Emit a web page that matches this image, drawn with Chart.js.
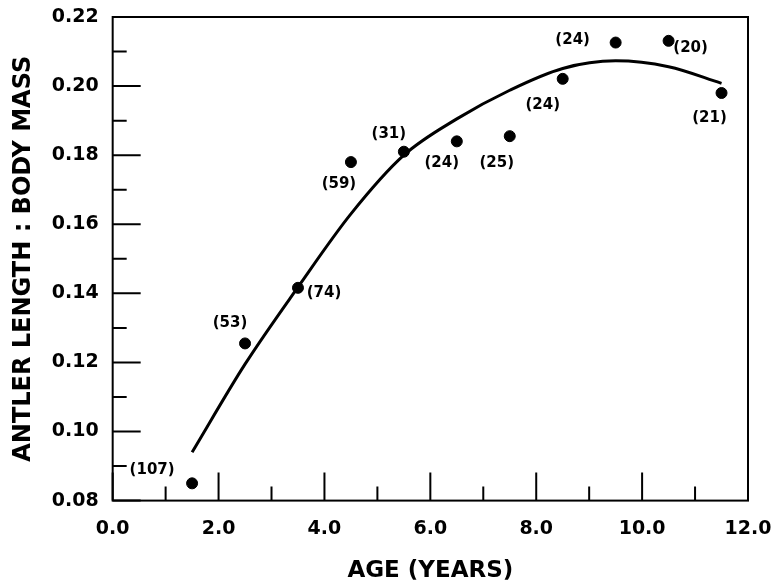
<!DOCTYPE html>
<html lang="en">

<head>
    <meta charset="UTF-8">
    <title>Antler length : body mass by age</title>
    <script src="https://cdn.jsdelivr.net/npm/chart.js"></script>
    <style>
        body {
            margin: 0;
            background-color: #ffffff;
        }
    </style>
</head>

<body>
    <canvas id="antlerChart" width="775" height="585"></canvas>

    <script>
        // observed means by age class, with sample sizes
        const ages = [1.5, 2.5, 3.5, 4.5, 5.5, 6.5, 7.5, 8.5, 9.5, 10.5, 11.5];
        const ratios = [0.085, 0.1255, 0.1416, 0.178, 0.181, 0.184, 0.1855, 0.2021, 0.2126, 0.2131, 0.198];
        const sampleSizes = [107, 53, 74, 59, 31, 24, 25, 24, 24, 20, 21];

        // fitted curve
        const fitAges = [1.5, 2.5, 3.5, 4.5, 5.5, 6.5, 7.5, 8.5, 9.5, 10.5, 11.5];
        const fitRatios = [0.094, 0.1195, 0.1418, 0.163, 0.180, 0.1905, 0.1988, 0.2051, 0.2073, 0.2056, 0.2008];

        // axis ticks
        const xTicks = [0, 2, 4, 6, 8, 10, 12];
        const xMinorTicks = [1, 3, 5, 7, 9, 11];
        const yTicks = [0.08, 0.10, 0.12, 0.14, 0.16, 0.18, 0.20, 0.22];
        const yMinorTicks = [0.09, 0.11, 0.13, 0.15, 0.17, 0.19, 0.21];

        // where each (n) label sits relative to its dot, in px
        const labelOffsets = [
            [-40, -13], [-15, -20], [26, 5], [-12, 22], [-15, -18], [-15, 22],
            [-13, 27], [-20, 26], [-43, -2], [22, 7], [-12, 25]
        ];

        const FONT = "'DejaVu Sans', sans-serif";

        // frame + inward tick marks
        const framePlugin = {
            id: "frame",
            afterDatasetsDraw(chart) {
                const ctx = chart.ctx;
                const a = chart.chartArea;
                const x = chart.scales.x;
                const y = chart.scales.y;
                ctx.save();
                ctx.strokeStyle = "#000";
                ctx.lineWidth = 2;
                ctx.strokeRect(a.left, a.top, a.right - a.left, a.bottom - a.top);

                ctx.beginPath();
                xTicks.forEach(v => {
                    const px = x.getPixelForValue(v);
                    ctx.moveTo(px, a.bottom);
                    ctx.lineTo(px, a.bottom - 28);
                });
                xMinorTicks.forEach(v => {
                    const px = x.getPixelForValue(v);
                    ctx.moveTo(px, a.bottom);
                    ctx.lineTo(px, a.bottom - 14);
                });
                yTicks.forEach(v => {
                    const py = y.getPixelForValue(v);
                    ctx.moveTo(a.left, py);
                    ctx.lineTo(a.left + 28, py);
                });
                yMinorTicks.forEach(v => {
                    const py = y.getPixelForValue(v);
                    ctx.moveTo(a.left, py);
                    ctx.lineTo(a.left + 14, py);
                });
                ctx.stroke();
                ctx.restore();
            }
        };

        // sample-size labels next to the dots
        const sampleLabelPlugin = {
            id: "sampleLabels",
            afterDatasetsDraw(chart) {
                const ctx = chart.ctx;
                const x = chart.scales.x;
                const y = chart.scales.y;
                ctx.save();
                ctx.fillStyle = "#000";
                ctx.font = "bold 15px " + FONT;
                ctx.textAlign = "center";
                ctx.textBaseline = "middle";
                sampleSizes.forEach((n, i) => {
                    const px = x.getPixelForValue(ages[i]) + labelOffsets[i][0];
                    const py = y.getPixelForValue(ratios[i]) + labelOffsets[i][1];
                    ctx.fillText("(" + n + ")", px, py);
                });
                ctx.restore();
            }
        };

        // labels may hang over the plot edges, no extra room needed
        function noOverhang(s) {
            s.paddingLeft = 0;
            s.paddingRight = 0;
            s.paddingTop = 0;
            s.paddingBottom = 0;
        }

        new Chart(document.getElementById("antlerChart"), {
            type: "scatter",
            data: {
                datasets: [{
                    label: "observed",
                    data: ages.map((a, i) => ({ x: a, y: ratios[i] })),
                    backgroundColor: "#000",
                    borderColor: "#000",
                    pointRadius: 5.5,
                    order: 0
                }, {
                    type: "line",
                    label: "fit",
                    data: fitAges.map((a, i) => ({ x: a, y: fitRatios[i] })),
                    borderColor: "#000",
                    borderWidth: 3,
                    pointRadius: 0,
                    fill: false,
                    cubicInterpolationMode: "monotone",
                    order: 1
                }]
            },
            options: {
                responsive: false,
                animation: false,
                layout: {
                    padding: { left: 6, top: 17, right: 27, bottom: 0 }
                },
                plugins: {
                    legend: { display: false },
                    tooltip: { enabled: false }
                },
                scales: {
                    x: {
                        type: "linear",
                        min: 0,
                        max: 12,
                        afterBuildTicks: s => { s.ticks = xTicks.map(v => ({ value: v })); },
                        afterFit: noOverhang,
                        grid: { display: false, drawTicks: false },
                        border: { display: false },
                        ticks: {
                            color: "#000",
                            padding: 17,
                            maxRotation: 0,
                            font: { family: FONT, size: 19, weight: "bold" },
                            callback: v => Number(v).toFixed(1)
                        },
                        title: {
                            display: true,
                            text: "AGE (YEARS)",
                            color: "#000",
                            padding: { top: 0, bottom: 0 },
                            font: { family: FONT, size: 23, weight: "bold" }
                        }
                    },
                    y: {
                        type: "linear",
                        min: 0.08,
                        max: 0.22,
                        afterBuildTicks: s => { s.ticks = yTicks.map(v => ({ value: v })); },
                        afterFit: noOverhang,
                        grid: { display: false, drawTicks: false },
                        border: { display: false },
                        ticks: {
                            color: "#000",
                            padding: 14,
                            font: { family: FONT, size: 19, weight: "bold" },
                            callback: v => Number(v).toFixed(2)
                        },
                        title: {
                            display: true,
                            text: "ANTLER LENGTH : BODY MASS",
                            color: "#000",
                            padding: { top: 3, bottom: 0 },
                            font: { family: FONT, size: 24, weight: "bold" }
                        }
                    }
                }
            },
            plugins: [framePlugin, sampleLabelPlugin]
        });
    </script>
</body>

</html>
